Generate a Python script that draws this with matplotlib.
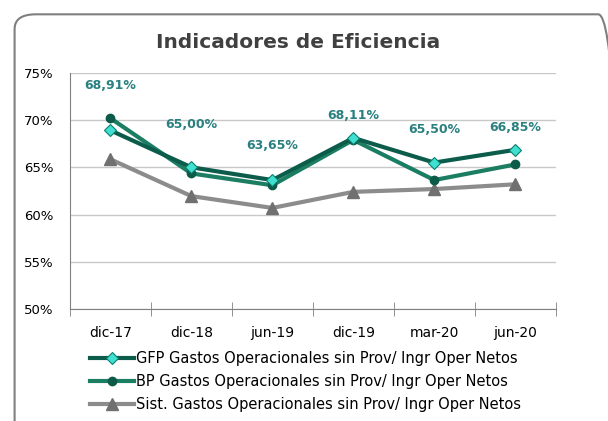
import numpy as np
from matplotlib import pyplot as plt
from matplotlib.patches import FancyBboxPatch
from matplotlib.ticker import FuncFormatter

# Chart values
periods = ['dic-17', 'dic-18', 'jun-19', 'dic-19', 'mar-20', 'jun-20']
gfp = [68.91, 65.00, 63.65, 68.11, 65.50, 66.85]
bp = [70.2, 64.35, 63.1, 67.9, 63.65, 65.3]
sist = [65.85, 61.95, 60.7, 62.4, 62.7, 63.2]
gfp_labels = ['68,91%', '65,00%', '63,65%', '68,11%', '65,50%', '66,85%']
series_names = [
    'GFP Gastos Operacionales sin Prov/ Ingr Oper Netos',
    'BP Gastos Operacionales sin Prov/ Ingr Oper Netos',
    'Sist. Gastos Operacionales sin Prov/ Ingr Oper Netos',
]

# label offsets above the GFP points (points)
label_offsets = [32, 31, 25, 16, 24, 16]

plt.rcParams['font.family'] = ['DejaVu Sans']

fig = plt.figure(figsize=(6.08, 4.21), dpi=100)
ax = fig.add_axes([0.115, 0.266, 0.799, 0.561])

# rounded chart border
border = FancyBboxPatch((0.024, -0.05), 0.995, 1.016,
                        boxstyle='round,pad=0,rounding_size=0.035',
                        transform=fig.transFigure, facecolor='none',
                        edgecolor='#7f7f7f', linewidth=1.5, clip_on=False)
fig.patches.append(border)

x = np.arange(len(periods))

ax.plot(x, gfp, color='#0b5c4b', linewidth=3, marker='D', markersize=6,
        markerfacecolor='#3fe0d0', markeredgecolor='#0b7f70', markeredgewidth=0.8,
        label=series_names[0], zorder=4)
ax.plot(x, bp, color='#1b7d62', linewidth=3, marker='o', markersize=6,
        markerfacecolor='#0c5a48', markeredgecolor='#0c5a48',
        label=series_names[1], zorder=3)
ax.plot(x, sist, color='#8c8c8c', linewidth=3, marker='^', markersize=8,
        markerfacecolor='#707070', markeredgecolor='#707070',
        label=series_names[2], zorder=2)

for xi, yi, txt, off in zip(x, gfp, gfp_labels, label_offsets):
    ax.annotate(txt, (xi, yi), xytext=(0, off), textcoords='offset points',
                ha='center', va='center', fontsize=9, fontweight='bold',
                color='#2a8080')

ax.set_xlim(-0.5, len(periods) - 0.5)
ax.set_ylim(50, 75)
ax.set_yticks(np.arange(50, 76, 5))
ax.yaxis.set_major_formatter(FuncFormatter(lambda v, p: f'{v:.0f}%'))
ax.set_xticks(x)
ax.set_xticklabels(periods)
ax.set_xticks(np.arange(-0.5, len(periods), 1), minor=True)
ax.tick_params(axis='x', which='major', length=0, pad=12, labelsize=10)
ax.tick_params(axis='x', which='minor', length=10, direction='inout', color='#808080')
ax.tick_params(axis='y', length=0, pad=12, labelsize=9.5)

ax.grid(axis='y', color='#c8c8c8', linewidth=1)
ax.set_axisbelow(True)
for side in ['top', 'right']:
    ax.spines[side].set_visible(False)
ax.spines['left'].set_color('#808080')
ax.spines['bottom'].set_color('#808080')

fig.text(0.49, 0.9, 'Indicadores de Eficiencia', ha='center', va='center',
         fontsize=14.5, fontweight='bold', color='#404040')

ax.legend(loc='upper left', bbox_to_anchor=(0.03, -0.155), frameon=False,
          fontsize=10.5, handlelength=3.0, handletextpad=0.1,
          labelspacing=0.55, borderaxespad=0)

fig.savefig('out.png', dpi=100)
